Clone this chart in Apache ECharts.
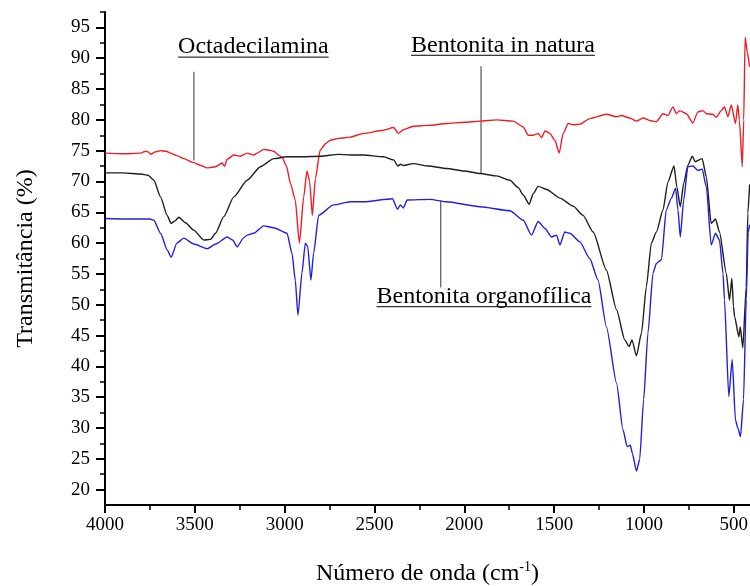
<!DOCTYPE html>
<html>
<head>
<meta charset="utf-8">
<script src="https://cdn.jsdelivr.net/npm/echarts@6/dist/echarts.min.js"></script>
<style>
  html, body { margin: 0; padding: 0; background: #fff; }
  #chart { width: 750px; height: 586px; }
</style>
</head>
<body>
<div id="chart"></div>
<script>
// wavenumbers (cm-1) and transmittance (%)
const wnRed = [4000, 3900, 3802, 3774, 3760, 3746, 3720, 3691, 3660, 3635, 3600, 3561, 3510, 3468, 3431, 3405, 3385, 3348, 3335, 3320, 3283, 3246, 3209, 3172, 3153, 3117, 3090, 3061, 3030, 3014, 2990, 2968, 2941, 2918, 2894, 2876, 2861, 2846, 2829, 2802, 2770, 2746, 2700, 2635, 2561, 2450, 2394, 2367, 2339, 2283, 2200, 2098, 2000, 1913, 1820, 1728, 1672, 1644, 1617, 1589, 1570, 1551, 1524, 1496, 1472, 1450, 1422, 1394, 1357, 1302, 1209, 1153, 1126, 1079, 1042, 1006, 968, 931, 894, 867, 839, 820, 802, 764, 728, 700, 672, 653, 617, 598, 570, 552, 533, 514, 491, 478, 469, 453, 445, 437, 425, 412]
const tRed = [74.6, 74.5, 74.6, 74.9, 74.8, 74.4, 74.8, 75.0, 74.9, 74.6, 74.2, 73.7, 73.1, 72.6, 72.2, 72.3, 72.4, 73.0, 72.5, 73.6, 74.3, 74.1, 74.6, 74.3, 74.6, 75.2, 75.1, 74.9, 74.2, 73.9, 72.5, 69.7, 67.0, 60.0, 67.5, 71.7, 70.0, 64.5, 70.5, 75.1, 76.2, 76.7, 77.0, 77.2, 77.8, 78.3, 78.75, 77.8, 78.4, 78.96, 79.1, 79.4, 79.6, 79.8, 80.0, 79.8, 78.85, 77.5, 77.5, 77.8, 77.1, 78.2, 77.8, 76.7, 74.6, 77.8, 79.4, 79.2, 79.3, 80.2, 80.9, 80.5, 80.7, 80.3, 79.8, 80.3, 79.9, 79.7, 81.0, 80.7, 82.1, 81.0, 81.5, 81.0, 79.5, 81.3, 81.5, 81.0, 80.9, 80.4, 81.5, 82.1, 80.5, 82.4, 79.4, 82.4, 80.0, 72.4, 80.0, 93.4, 91.0, 88.6]

const wnBlack = [4000, 3900, 3800, 3760, 3728, 3691, 3654, 3632, 3610, 3589, 3552, 3506, 3450, 3413, 3385, 3339, 3283, 3209, 3135, 3061, 2987, 2913, 2802, 2700, 2635, 2561, 2450, 2394, 2370, 2355, 2340, 2283, 2200, 2098, 2000, 1913, 1820, 1746, 1700, 1672, 1639, 1617, 1589, 1542, 1468, 1394, 1339, 1283, 1209, 1153, 1107, 1083, 1067, 1042, 1014, 987, 959, 931, 894, 867, 833, 817, 798, 779, 756, 731, 715, 676, 653, 626, 602, 580, 542, 524, 511, 502, 496, 472, 464, 450, 431, 422, 412]
const tBlack = [71.4, 71.4, 71.2, 71.0, 70.2, 67.5, 64.5, 63.2, 63.6, 64.2, 63.3, 62.1, 60.5, 60.6, 61.6, 64.3, 67.5, 70.2, 72.4, 73.7, 74.0, 74.0, 74.1, 74.4, 74.3, 74.3, 74.0, 73.5, 72.5, 72.8, 72.6, 72.9, 72.5, 72.1, 71.7, 71.3, 70.9, 70.2, 69.0, 67.8, 66.3, 68.0, 69.2, 68.7, 67.3, 66.0, 64.5, 61.8, 55.6, 49.2, 44.3, 43.2, 44.3, 41.7, 45.4, 52.9, 60.0, 61.8, 65.4, 69.9, 72.5, 69.1, 65.9, 69.7, 72.6, 74.1, 73.2, 73.7, 70.75, 63.2, 63.9, 61.8, 55.1, 50.7, 54.3, 49.7, 48.1, 44.8, 46.4, 43.0, 52.9, 64.9, 69.5]

const wnBlue = [4000, 3800, 3750, 3728, 3691, 3654, 3632, 3600, 3561, 3506, 3431, 3380, 3320, 3290, 3264, 3230, 3209, 3172, 3117, 3061, 2987, 2959, 2941, 2926, 2904, 2885, 2872, 2854, 2839, 2811, 2728, 2635, 2561, 2400, 2372, 2356, 2340, 2318, 2191, 2098, 1913, 1746, 1672, 1626, 1589, 1552, 1515, 1487, 1468, 1441, 1413, 1357, 1302, 1256, 1209, 1153, 1117, 1094, 1076, 1065, 1042, 1024, 1002, 978, 950, 931, 903, 876, 848, 824, 811, 798, 779, 756, 728, 700, 676, 653, 626, 602, 580, 560, 552, 528, 509, 491, 478, 463, 446, 431, 420, 412]
const tBlue = [64.0, 63.9, 63.9, 63.7, 61.6, 58.9, 57.7, 60.0, 60.8, 59.85, 59.1, 59.9, 61.0, 60.5, 59.4, 60.8, 61.3, 61.6, 62.8, 62.5, 61.6, 58.3, 54.0, 48.3, 55.1, 60.0, 59.5, 54.0, 58.3, 64.5, 66.2, 66.7, 66.7, 67.2, 65.5, 66.2, 65.7, 67.0, 67.1, 66.7, 65.9, 65.25, 63.7, 61.3, 63.5, 62.4, 61.0, 61.3, 59.7, 61.8, 61.6, 60.2, 57.5, 54.0, 46.4, 37.3, 29.7, 27.0, 27.2, 25.9, 23.0, 24.9, 34.6, 45.4, 55.1, 56.7, 57.3, 65.4, 67.25, 68.9, 65.4, 61.0, 67.0, 72.4, 72.5, 71.8, 72.0, 69.1, 59.7, 61.6, 60.5, 55.0, 50.8, 35.1, 41.1, 31.3, 30.0, 28.6, 34.6, 50.8, 61.8, 63.0]

const xMajor = [4000, 3500, 3000, 2500, 2000, 1500, 1000, 500]
const xMinor = [3750, 3250, 2750, 2250, 1750, 1250, 750]
const yMajor = [20, 25, 30, 35, 40, 45, 50, 55, 60, 65, 70, 75, 80, 85, 90, 95]
const yMinor = [22.5, 27.5, 32.5, 37.5, 42.5, 47.5, 52.5, 57.5, 62.5, 67.5, 72.5, 77.5, 82.5, 87.5, 92.5, 97.5]

// annotation labels: text, label centre and leader line, in data units
const noteText = ['Octadecilamina', 'Bentonita in natura', 'Bentonita organofílica']
const notePos = [[3174, 91.8], [1785, 92.1], [1891, 51.3]]
const noteLine = [[[3505, 87.8], [3505, 73.4]], [[1907, 88.7], [1907, 71.3]], [[2131, 66.9], [2131, 52.8]]]

const FONT = '"Liberation Serif", "Times New Roman", serif'
const pairs = (xs, ys) => xs.map((x, i) => [x, ys[i]])

const chart = echarts.init(document.getElementById('chart'))

const xRange = { type: 'value', min: 410, max: 4000, inverse: true, position: 'bottom' }
const yRange = { type: 'value', min: 17.5, max: 97.5, position: 'left' }

const makeSeries = (name, xs, ys, color) => ({
  name,
  type: 'line',
  data: pairs(xs, ys),
  showSymbol: false,
  smooth: 0.2,
  smoothMonotone: 'x',
  lineStyle: { color, width: 1.4 },
  itemStyle: { color },
  silent: true
})

chart.setOption({
  animation: false,
  grid: { left: 105, right: 0, top: 12, bottom: 81, outerBoundsMode: 'none' },
  xAxis: [
    {
      ...xRange,
      name: 'Número de onda (cm{sup|-1})',
      nameLocation: 'middle',
      nameGap: 55,
      nameMoveOverlap: false,
      nameTextStyle: {
        fontFamily: FONT, fontSize: 24, color: '#000',
        rich: { sup: { fontFamily: FONT, fontSize: 14, color: '#000', padding: [0, 0, 13, 0] } }
      },
      axisLine: { onZero: false, lineStyle: { color: '#000', width: 2 } },
      axisTick: { customValues: xMajor, length: 8, lineStyle: { color: '#000', width: 2 } },
      axisLabel: {
        customValues: xMajor, margin: 11, fontFamily: FONT, fontSize: 19, color: '#000',
        formatter: v => String(v)
      },
      splitLine: { show: false }
    },
    {
      ...xRange,
      axisLine: { show: false },
      axisTick: { customValues: xMinor, length: 5, lineStyle: { color: '#000', width: 1.5 } },
      axisLabel: { show: false },
      splitLine: { show: false }
    }
  ],
  yAxis: [
    {
      ...yRange,
      name: 'Transmitância (%)',
      nameLocation: 'middle',
      nameGap: 67,
      nameMoveOverlap: false,
      nameTextStyle: { fontFamily: FONT, fontSize: 24, color: '#000' },
      axisLine: { onZero: false, lineStyle: { color: '#000', width: 2 } },
      axisTick: { customValues: yMajor, length: 9, lineStyle: { color: '#000', width: 2 } },
      axisLabel: {
        customValues: yMajor, margin: 15, fontFamily: FONT, fontSize: 19, color: '#000',
        formatter: v => String(v)
      },
      splitLine: { show: false }
    },
    {
      ...yRange,
      axisLine: { show: false },
      axisTick: { customValues: yMinor, length: 5, lineStyle: { color: '#000', width: 1.5 } },
      axisLabel: { show: false },
      splitLine: { show: false }
    }
  ],
  series: [
    makeSeries('Octadecilamina', wnRed, tRed, '#ee1c24'),
    makeSeries('Bentonita in natura', wnBlack, tBlack, '#1e1e1e'),
    makeSeries('Bentonita organofílica', wnBlue, tBlue, '#1f1fe0')
  ]
})

// annotation text, underline and leader lines placed through the axes
const noteFont = '24px ' + FONT
const ctx = document.createElement('canvas').getContext('2d')
ctx.font = noteFont
const toPx = p => chart.convertToPixel({ seriesIndex: 0 }, p)
const elements = []
noteText.forEach((text, i) => {
  const c = toPx(notePos[i])
  const w = ctx.measureText(text).width
  elements.push({
    type: 'text', x: c[0], y: c[1], silent: true,
    style: { text, font: noteFont, fill: '#000', textAlign: 'center', textVerticalAlign: 'middle' }
  })
  elements.push({
    type: 'line', silent: true,
    shape: { x1: c[0] - w / 2, y1: c[1] + 10, x2: c[0] + w / 2, y2: c[1] + 10 },
    style: { stroke: '#000', lineWidth: 1 }
  })
  const a = toPx(noteLine[i][0])
  const b = toPx(noteLine[i][1])
  elements.push({
    type: 'line', silent: true,
    shape: { x1: a[0], y1: a[1], x2: b[0], y2: b[1] },
    style: { stroke: '#333', lineWidth: 1 }
  })
})
chart.setOption({ graphic: { elements } })
</script>
</body>
</html>
